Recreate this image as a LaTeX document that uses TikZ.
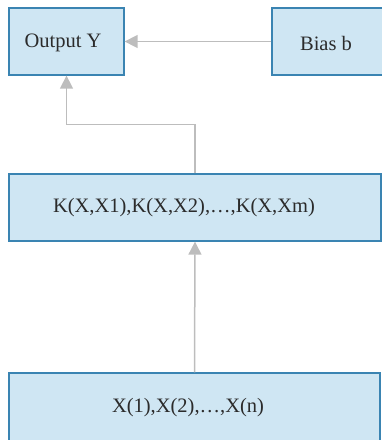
\documentclass[tikz,border=0pt]{standalone}
\usepackage{fontspec}
\setmainfont{Liberation Serif}
\usetikzlibrary{arrows.meta}
\definecolor{boxfill}{HTML}{CFE6F3}
\definecolor{boxline}{HTML}{3A84B2}
\definecolor{connline}{HTML}{BDBDBD}
\definecolor{txtcol}{HTML}{2B2B2B}
\tikzset{
  blockbox/.style={draw=boxline, line width=1.3pt, fill=boxfill, rectangle, inner sep=0pt},
  blocktext/.style={text=txtcol, font=\fontsize{20.5}{24}\selectfont, inner sep=0pt},
  conn/.style={draw=connline, line width=1.5pt, -{Triangle[length=13pt,width=13pt]}},
}
\begin{document}
\begin{tikzpicture}[x=1pt,y=-1pt]
  \useasboundingbox (0,0) rectangle (382,440);
  % blocks (corner to corner)
  \node[blockbox, minimum width=115pt, minimum height=67pt] (out)  at (66.5,41.5) {};
  \node[blockbox, minimum width=112pt, minimum height=67pt] (bias) at (328,41.5) {};
  \node[blockbox, minimum width=372pt, minimum height=67pt] (k)    at (195,207.5) {};
  \node[blockbox, minimum width=371pt, minimum height=69pt] (x)    at (194.5,407.5) {};
  % labels
  \node[blocktext] (outt)  at (63,43)  {Output Y};
  \node[blocktext] (biast) at (326,43) {Bias b};
  \node[blocktext] (kt)    at (184,208) {K(X,X1),K(X,X2),\ldots,K(X,Xm)};
  \node[blocktext] (xt)    at (188,408) {X(1),X(2),\ldots,X(n)};
  % connectors
  \draw[conn] (bias.west) -- (out.east);
  \draw[conn] (k.north) -- ++(0,-49) -| (out.south);
  \draw[conn] (x.north) -- (k.south);
\end{tikzpicture}
\end{document}
